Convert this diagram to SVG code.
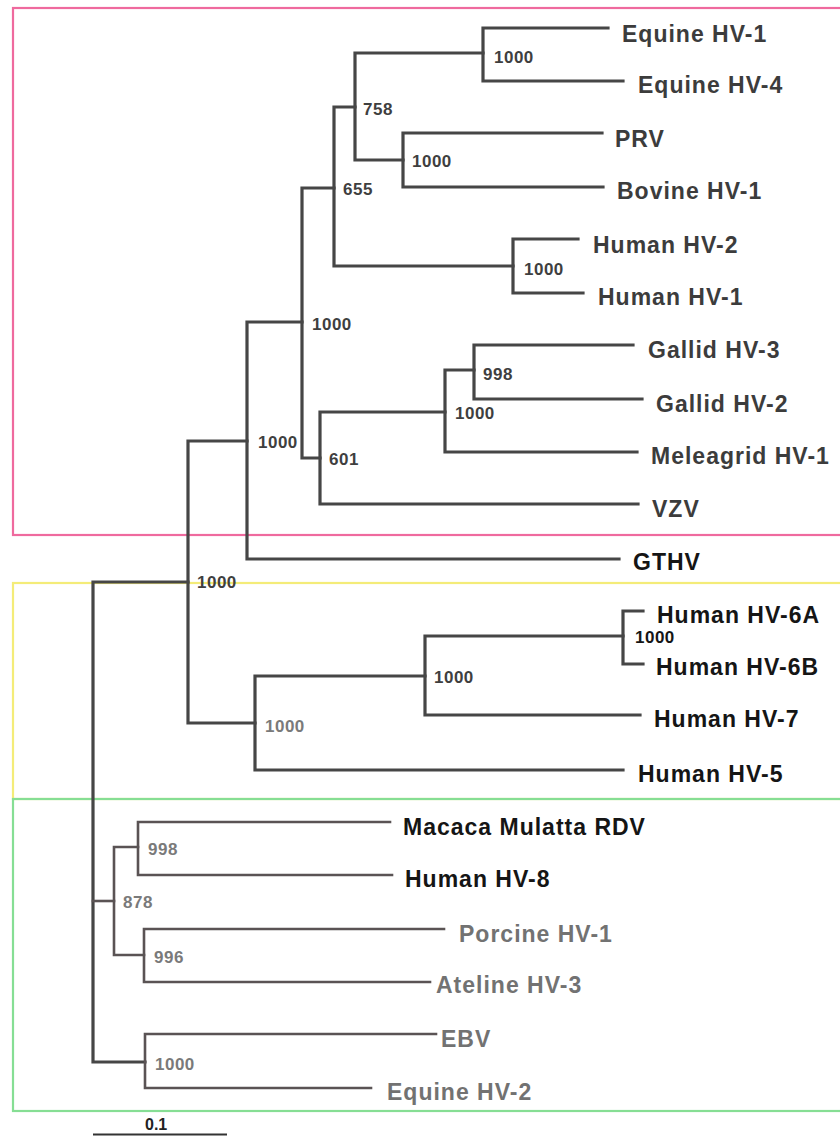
<svg xmlns="http://www.w3.org/2000/svg" width="840" height="1136" viewBox="0 0 840 1136">
<style>
.box{fill:none;stroke-width:2.2}
.br{fill:none;stroke:#464646;stroke-width:3.2;stroke-linecap:square}
.brg{fill:none;stroke:#5a5354;stroke-width:2.6;stroke-linecap:square}
.lf{font-family:"Liberation Sans",Arial,sans-serif;font-weight:bold;font-size:23px;letter-spacing:1px;fill:#3c3c3c}
.lfb{fill:#151515}
.lfg{fill:#727272}
.bs{font-family:"Liberation Sans",Arial,sans-serif;font-weight:bold;font-size:17px;letter-spacing:0.5px;fill:#3f3f3f}
.bsg{fill:#7a7a7a}
.bsb{fill:#151515}
</style>
<rect width="840" height="1136" fill="#ffffff"/>
<g id="groups">
<rect class="box" x="13" y="8" width="840" height="527" stroke="#ef6a9e"/>
<rect class="box" x="13" y="583" width="840" height="216" stroke="#f4ec78"/>
<rect class="box" x="13" y="799" width="840" height="312" stroke="#86de94"/>
</g>
<g id="connectors">
<path class="br" d="M608 28H483V81H623"/>
<path class="br" d="M602 133H403V187H603"/>
<path class="br" d="M483 53H355V160H403"/>
<path class="br" d="M578 239H513V293H583"/>
<path class="br" d="M355 107H334V266H513"/>
<path class="br" d="M633 345H474V399H642"/>
<path class="br" d="M474 370H445V452H637"/>
<path class="br" d="M445 412H320V504H638"/>
<path class="br" d="M334 188H302V458H320"/>
<path class="br" d="M302 322H247V559H619"/>
<path class="br" d="M247 441H188V723H255"/>
<path class="br" d="M425 676H255V770H623"/>
<path class="br" d="M623 636H425V715H640"/>
<path class="br" d="M643 611H623V664H643"/>
<path class="br" d="M188 582H93V1062H145"/>
<path class="brg" d="M93 901H114"/>
<path class="brg" d="M138 847H114V955H144"/>
<path class="brg" d="M390 822H138V875H392"/>
<path class="brg" d="M444 929H144V982H430"/>
<path class="brg" d="M436 1034H145V1088H371"/>
</g>
<g id="bootstrap">
<text class="bs" x="494" y="63">1000</text>
<text class="bs" x="363" y="115">758</text>
<text class="bs" x="412" y="167">1000</text>
<text class="bs" x="343" y="195">655</text>
<text class="bs" x="524" y="275">1000</text>
<text class="bs" x="312" y="330">1000</text>
<text class="bs" x="483" y="380">998</text>
<text class="bs" x="455" y="419">1000</text>
<text class="bs" x="258" y="448">1000</text>
<text class="bs" x="329" y="465">601</text>
<text class="bs" x="197" y="588">1000</text>
<text class="bs bsb" x="635" y="643">1000</text>
<text class="bs" x="434" y="683">1000</text>
<text class="bs bsg" x="265" y="732">1000</text>
<text class="bs bsg" x="148" y="855">998</text>
<text class="bs bsg" x="123" y="908">878</text>
<text class="bs bsg" x="154" y="963">996</text>
<text class="bs bsg" x="155" y="1070">1000</text>
</g>
<g id="leaf-equine-hv1"><text class="lf" x="622" y="42">Equine HV-1</text></g>
<g id="leaf-equine-hv4"><text class="lf" x="638" y="93">Equine HV-4</text></g>
<g id="leaf-prv"><text class="lf" x="615" y="147">PRV</text></g>
<g id="leaf-bovine-hv1"><text class="lf" x="617" y="199">Bovine HV-1</text></g>
<g id="leaf-human-hv2"><text class="lf" x="593" y="253">Human HV-2</text></g>
<g id="leaf-human-hv1"><text class="lf" x="598" y="305">Human HV-1</text></g>
<g id="leaf-gallid-hv3"><text class="lf" x="648" y="358">Gallid HV-3</text></g>
<g id="leaf-gallid-hv2"><text class="lf" x="656" y="412">Gallid HV-2</text></g>
<g id="leaf-meleagrid-hv1"><text class="lf" x="651" y="464">Meleagrid HV-1</text></g>
<g id="leaf-vzv"><text class="lf" x="652" y="517">VZV</text></g>
<g id="leaf-gthv"><text class="lf lfb" x="633" y="570">GTHV</text></g>
<g id="leaf-human-hv6a"><text class="lf lfb" x="657" y="623">Human HV-6A</text></g>
<g id="leaf-human-hv6b"><text class="lf lfb" x="656" y="675">Human HV-6B</text></g>
<g id="leaf-human-hv7"><text class="lf lfb" x="654" y="727">Human HV-7</text></g>
<g id="leaf-human-hv5"><text class="lf lfb" x="638" y="782">Human HV-5</text></g>
<g id="leaf-macaca"><text class="lf lfb" x="403" y="835">Macaca Mulatta RDV</text></g>
<g id="leaf-human-hv8"><text class="lf lfb" x="405" y="887">Human HV-8</text></g>
<g id="leaf-porcine-hv1"><text class="lf lfg" x="459" y="942">Porcine HV-1</text></g>
<g id="leaf-ateline-hv3"><text class="lf lfg" x="436" y="993">Ateline HV-3</text></g>
<g id="leaf-ebv"><text class="lf lfg" x="441" y="1047">EBV</text></g>
<g id="leaf-equine-hv2"><text class="lf lfg" x="387" y="1100">Equine HV-2</text></g>
<g id="scale">
<text x="145" y="1130" font-family="Liberation Sans, Arial, sans-serif" font-weight="bold" font-size="16" fill="#222">0.1</text>
<path d="M93 1134.5H227" stroke="#333" stroke-width="2.2"/>
</g>
</svg>
